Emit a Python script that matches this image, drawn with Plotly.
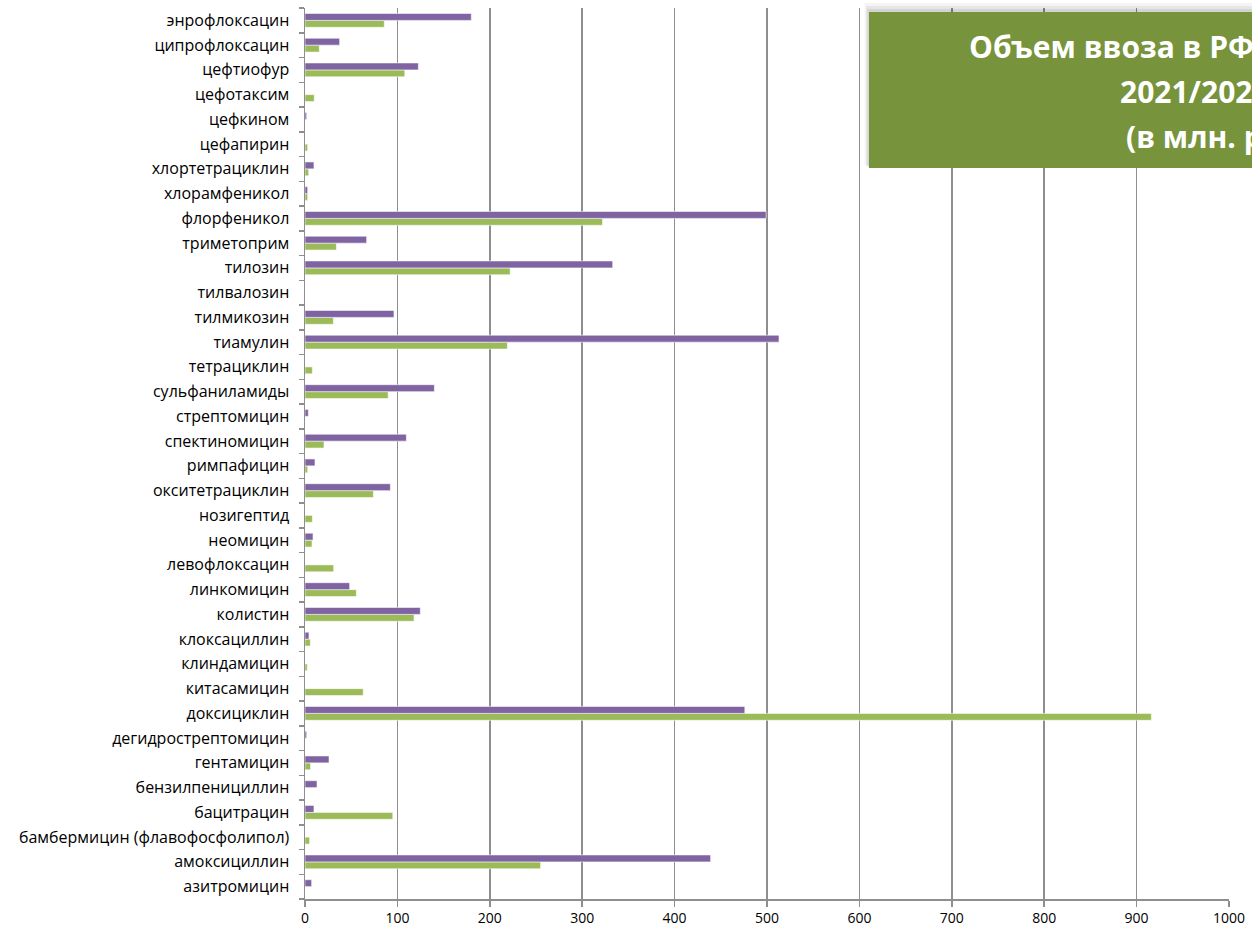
import plotly.graph_objects as go

# Categories listed bottom -> top
categories = [
    "азитромицин", "амоксициллин", "бамбермицин (флавофосфолипол)", "бацитрацин",
    "бензилпенициллин", "гентамицин", "дегидрострептомицин", "доксициклин",
    "китасамицин", "клиндамицин", "клоксациллин", "колистин", "линкомицин",
    "левофлоксацин", "неомицин", "нозигептид", "окситетрациклин", "римпафицин",
    "спектиномицин", "стрептомицин", "сульфаниламиды", "тетрациклин", "тиамулин",
    "тилмикозин", "тилвалозин", "тилозин", "триметоприм", "флорфеникол",
    "хлорамфеникол", "хлортетрациклин", "цефапирин", "цефкином", "цефотаксим",
    "цефтиофур", "ципрофлоксацин", "энрофлоксацин",
]

series_green = [
    0, 255, 5, 95, 0, 6, 0, 916, 63, 2.5, 5.8, 118, 55.6, 31, 7.6, 8, 74, 2.9,
    20.6, 0, 90, 8, 219, 30.7, 0, 222, 34, 322, 2.9, 4, 2.9, 0, 10, 108, 15.5, 85.8,
]
series_purple = [
    7.2, 439, 0, 9.7, 13, 26, 1.8, 476, 0, 0, 4.3, 124.8, 48.3, 0, 8.7, 0, 92.4, 10.8,
    109.7, 3.6, 140, 0, 513, 96.3, 0, 333, 66.7, 499, 2.9, 9.7, 0, 1.8, 0, 122.7, 37.5, 180,
]

x_ticks = [0, 100, 200, 300, 400, 500, 600, 700, 800, 900, 1000]

title_lines = ["Объем ввоза в РФ антибиотиков", "2021/2022 гг.", "(в млн. руб.)"]

FONT = "Open Sans"

W, H = 1252, 930
PL, PR, PT, PB = 305, 1229, 8, 899  # plot area in page pixels


def px_to_paper_x(px):
    return (px - PL) / (PR - PL)


def px_to_paper_y(py):
    return (PB - py) / (PB - PT)


fig = go.Figure()
fig.add_trace(go.Bar(
    y=categories, x=series_green, orientation="h", name="2021",
    marker=dict(color="#9BBB59", line=dict(color="rgba(255,255,255,0.7)", width=0.8)),
))
fig.add_trace(go.Bar(
    y=categories, x=series_purple, orientation="h", name="2022",
    marker=dict(color="#8064A2", line=dict(color="rgba(255,255,255,0.7)", width=0.8)),
))

fig.update_layout(
    width=W, height=H,
    margin=dict(l=PL, r=W - PR, t=PT, b=H - PB),
    paper_bgcolor="white", plot_bgcolor="white",
    barmode="group", bargap=0.44, bargroupgap=0,
    showlegend=False,
    font=dict(family=FONT, size=14, color="black"),
)
fig.update_xaxes(
    range=[0, 1000], tickvals=x_ticks, ticktext=[str(v) for v in x_ticks],
    showgrid=True, gridcolor="#8E8E8E", gridwidth=1.5,
    showline=True, linecolor="#8E8E8E", linewidth=1.5,
    ticks="outside", ticklen=6, tickcolor="#8E8E8E", tickwidth=1.5,
    zeroline=False, tickfont=dict(family=FONT, size=14, color="black"),
    automargin=False, fixedrange=True,
)
fig.update_yaxes(
    type="category", categoryorder="array", categoryarray=categories,
    showline=True, linecolor="#8E8E8E", linewidth=1.5,
    ticks="outside", ticklen=5, tickcolor="#8E8E8E", tickwidth=1.5,
    tickson="boundaries", showgrid=False,
    ticklabelstandoff=11,
    tickfont=dict(family=FONT, size=16, color="black"),
    automargin=False, fixedrange=True,
)

# title box with soft shadow (extends past the right edge, as in the original)
for i, a in enumerate([0.04, 0.06, 0.08]):
    d = 9 - 3 * i
    fig.add_shape(type="rect", xref="paper", yref="paper",
                  x0=px_to_paper_x(869 - d / 2), x1=1.3,
                  y0=px_to_paper_y(168 - d / 3), y1=px_to_paper_y(12 - d),
                  fillcolor=f"rgba(0,0,0,{a})", line=dict(width=0), layer="above")
fig.add_shape(type="rect", xref="paper", yref="paper",
              x0=px_to_paper_x(869), x1=1.3,
              y0=px_to_paper_y(168), y1=px_to_paper_y(12),
              fillcolor="#77933C", line=dict(width=0), layer="above")

line_x = [969, 1120, 1126]
line_y = [46, 91, 136]
for txt, lx, ly in zip(title_lines, line_x, line_y):
    fig.add_annotation(
        text="<b>" + txt + "</b>", xref="paper", yref="paper",
        x=px_to_paper_x(lx - 2), y=px_to_paper_y(ly),
        xanchor="left", yanchor="middle", showarrow=False,
        font=dict(family=FONT, size=30, color="white"),
    )

fig.write_html(
    "out.html",
    config={"displayModeBar": False, "staticPlot": True},
    post_script="document.body.style.margin='0';document.body.style.overflow='hidden';",
)
